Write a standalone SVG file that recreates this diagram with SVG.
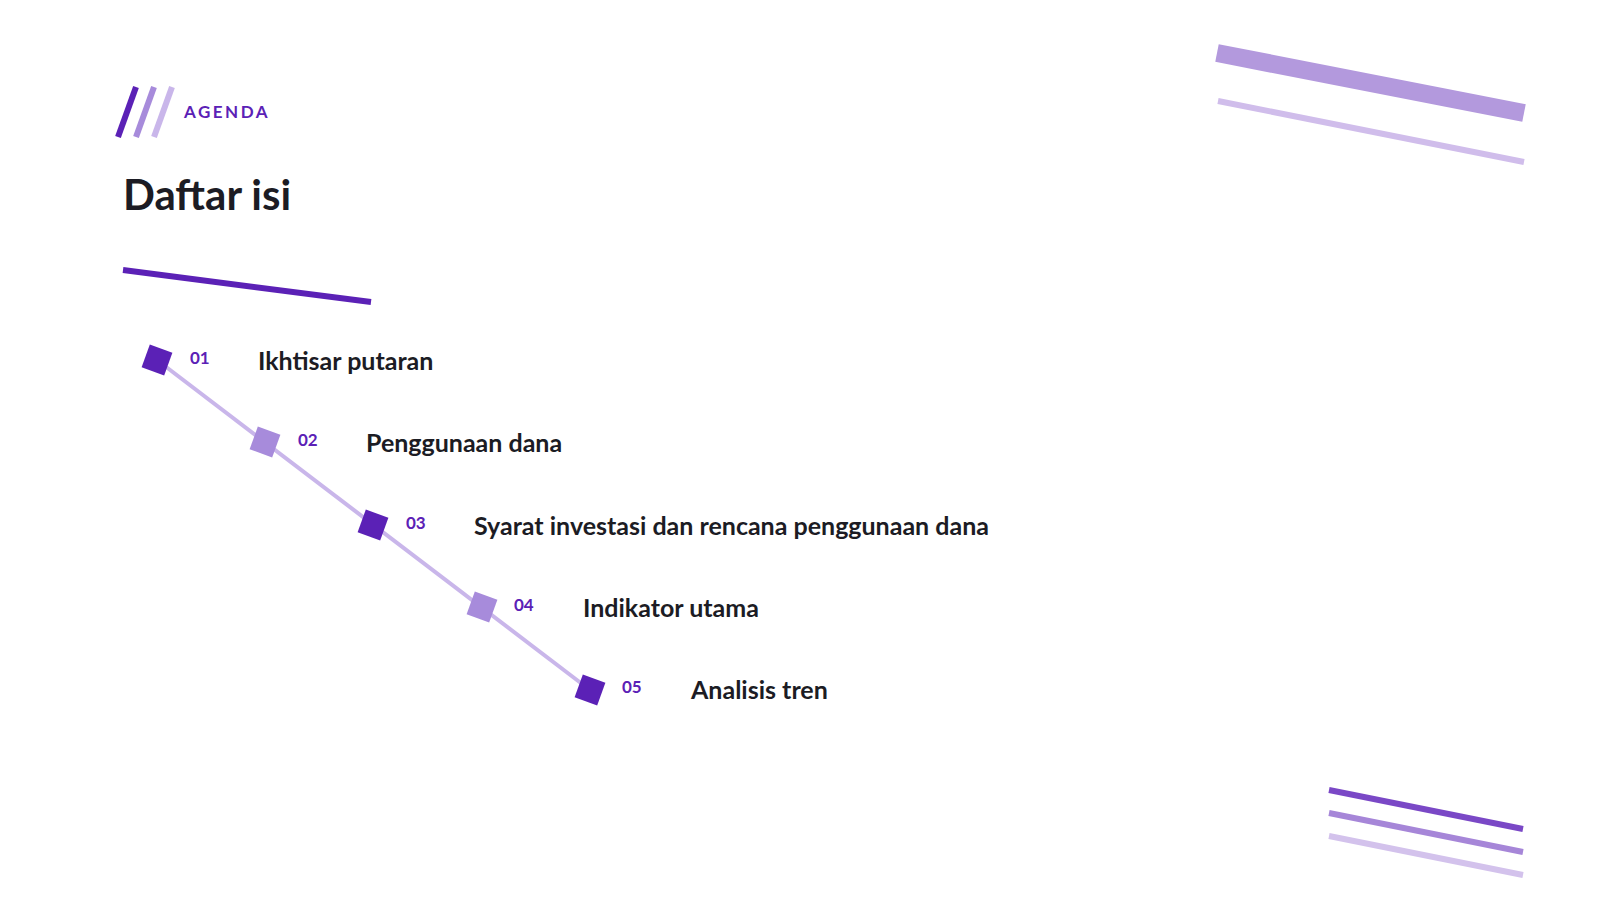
<svg xmlns="http://www.w3.org/2000/svg" width="1598" height="900" viewBox="0 0 1598 900">
<style>
.t{font-family:Lato,"Liberation Sans",sans-serif;font-weight:700}
.num{font-size:17px;fill:#5b21b6}
.lbl{font-size:25px;fill:#1c1c24}
.dk{fill:#5b21b6}.lt{fill:#a78bdb}
</style>
<rect width="1598" height="900" fill="#fff"/>
<g id="decor" stroke-linecap="butt">
<line x1="118" y1="137" x2="136" y2="87" stroke="#5b21b6" stroke-width="6"/>
<line x1="136" y1="137" x2="154" y2="87" stroke="#a78bdb" stroke-width="6"/>
<line x1="154" y1="137" x2="172" y2="87" stroke="#c9b6ea" stroke-width="6"/>
<line x1="123" y1="270" x2="371" y2="302" stroke="#5b21b6" stroke-width="6"/>
<line x1="1217" y1="53" x2="1524" y2="113" stroke="#b399dd" stroke-width="18"/>
<line x1="1218" y1="101" x2="1524" y2="162" stroke="#d0bdeb" stroke-width="6"/>
<line x1="1329" y1="790" x2="1523" y2="829" stroke="#7a48c6" stroke-width="6"/>
<line x1="1329" y1="813" x2="1523" y2="852" stroke="#a686d8" stroke-width="6"/>
<line x1="1329" y1="836" x2="1523" y2="875" stroke="#d3c2ec" stroke-width="6"/>
</g>
<text class="t" x="184" y="118" font-size="17" fill="#5b21b6" letter-spacing="2.5">AGENDA</text>
<text class="t" x="123" y="210" font-size="42" fill="#1c1c24">Daftar isi</text>
<g id="connectors">
<line x1="157" y1="360" x2="590" y2="690" stroke="#c9b6ea" stroke-width="4"/>
</g>
<g id="n1"><rect class="dk" x="-12" y="-12" width="24" height="24" transform="translate(157,360) rotate(20)"/><text class="t num" x="190" y="364">01</text><text class="t lbl" x="258" y="370">Ikhtisar putaran</text></g>
<g id="n2"><rect class="lt" x="-12" y="-12" width="24" height="24" transform="translate(265,442) rotate(20)"/><text class="t num" x="298" y="446">02</text><text class="t lbl" x="366" y="452">Penggunaan dana</text></g>
<g id="n3"><rect class="dk" x="-12" y="-12" width="24" height="24" transform="translate(373,525) rotate(20)"/><text class="t num" x="406" y="529">03</text><text class="t lbl" x="474" y="535">Syarat investasi dan rencana penggunaan dana</text></g>
<g id="n4"><rect class="lt" x="-12" y="-12" width="24" height="24" transform="translate(482,607) rotate(20)"/><text class="t num" x="514" y="611">04</text><text class="t lbl" x="583" y="617">Indikator utama</text></g>
<g id="n5"><rect class="dk" x="-12" y="-12" width="24" height="24" transform="translate(590,690) rotate(20)"/><text class="t num" x="622" y="693">05</text><text class="t lbl" x="691" y="699">Analisis tren</text></g>
</svg>
